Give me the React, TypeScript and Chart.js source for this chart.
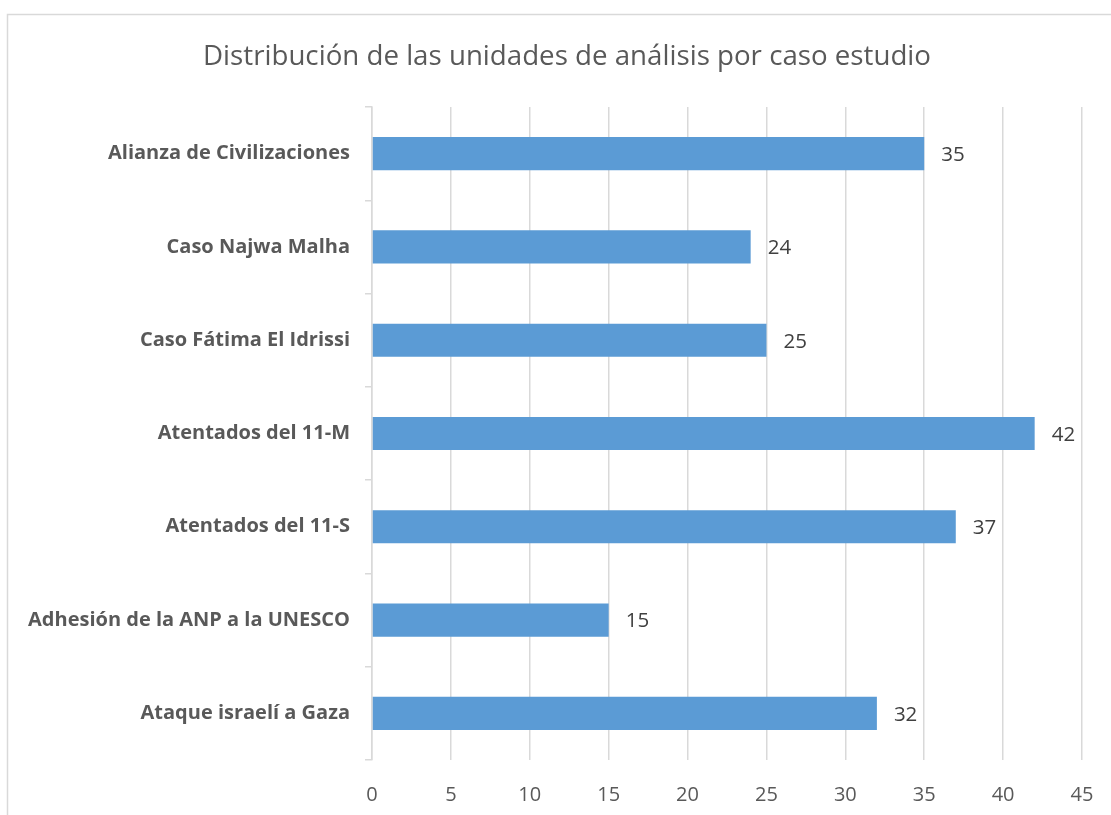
import React, { useEffect, useRef } from "react";
import { Chart, registerables } from "chart.js";

Chart.register(...registerables);

const TITLE = "Distribución de las unidades de análisis por caso estudio";
const categories = [
  "Alianza de Civilizaciones",
  "Caso Najwa Malha",
  "Caso Fátima El Idrissi",
  "Atentados del 11-M",
  "Atentados del 11-S",
  "Adhesión de la ANP a la UNESCO",
  "Ataque israelí a Gaza",
];
const values = [35, 24, 25, 42, 37, 15, 32];
const xMin = 0;
const xMax = 45;
const xStep = 5;

const FONT = "'Open Sans', 'Liberation Sans', sans-serif";
const GRID = "#d9d9d9";
const TEXT = "#595959";

const framePlugin = {
  id: "frame",
  beforeDraw(chart: any) {
    const ctx = chart.ctx;
    ctx.save();
    ctx.strokeStyle = GRID;
    ctx.lineWidth = 1.5;
    ctx.beginPath();
    ctx.moveTo(7.5, chart.height);
    ctx.lineTo(7.5, 14.5);
    ctx.lineTo(chart.width, 14.5);
    ctx.stroke();
    ctx.fillStyle = TEXT;
    ctx.font = `27.7px ${FONT}`;
    ctx.textAlign = "center";
    ctx.textBaseline = "middle";
    ctx.fillText(TITLE, 567, 57);
    ctx.restore();
  },
};

const labelPlugin = {
  id: "barLabels",
  afterDatasetsDraw(chart: any) {
    const ctx = chart.ctx;
    const meta = chart.getDatasetMeta(0);
    ctx.save();
    ctx.fillStyle = "#404040";
    ctx.font = `20.5px ${FONT}`;
    ctx.textAlign = "left";
    ctx.textBaseline = "middle";
    meta.data.forEach((bar: any, i: number) => {
      ctx.fillText(String(values[i]), bar.x + 17, bar.y + 1.5);
    });
    ctx.restore();
  },
};

export default function App() {
  const ref = useRef<HTMLCanvasElement>(null);
  useEffect(() => {
    const chart = new Chart(ref.current!, {
      type: "bar",
      data: {
        labels: categories,
        datasets: [
          {
            data: values,
            backgroundColor: "#5b9bd5",
            barPercentage: 0.355,
            categoryPercentage: 1,
          },
        ],
      },
      options: {
        indexAxis: "y",
        animation: false,
        responsive: false,
        layout: { padding: { top: 107, right: 29, left: 0, bottom: 0 } },
        plugins: { legend: { display: false }, tooltip: { enabled: false }, title: { display: false } },
        scales: {
          x: {
            min: xMin,
            max: xMax,
            ticks: { stepSize: xStep, color: TEXT, font: { family: FONT, size: 20 }, padding: 23, maxRotation: 0 },
            grid: { color: GRID, drawTicks: false, lineWidth: 1.5 },
            border: { display: false },
            afterFit: (s: any) => { s.height = 55; s.paddingLeft = 0; s.paddingRight = 0; },
          },
          y: {
            ticks: { color: TEXT, font: { family: FONT, size: 20, weight: "bold" }, padding: 15 },
            grid: { color: GRID, drawOnChartArea: false, drawTicks: true, tickLength: 7, offset: true, lineWidth: 1.5 },
            border: { display: true, color: GRID, width: 1.5 },
            afterFit: (s: any) => { s.width = 372; s.paddingTop = 0; s.paddingBottom = 0; },
          },
        },
      },
      plugins: [framePlugin, labelPlugin],
    });
    return () => chart.destroy();
  }, []);
  return (
    <div style={{ position: "absolute", left: 0, top: 0, width: 1111, height: 815, background: "#fff" }}>
      <canvas ref={ref} width={1111} height={815} style={{ display: "block" }} />
    </div>
  );
}
